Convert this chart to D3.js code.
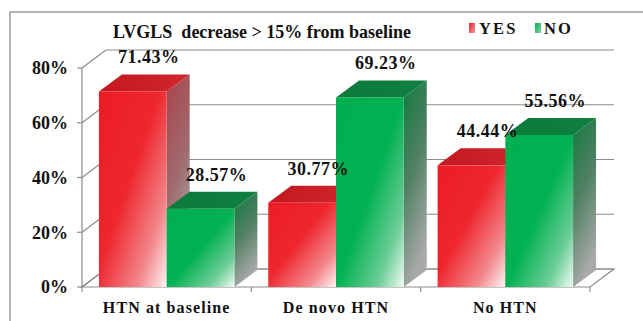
<!DOCTYPE html>
<html>
<head>
<meta charset="utf-8">
<script src="https://cdn.jsdelivr.net/npm/d3@7"></script>
<style>
  html, body { margin: 0; padding: 0; background: #fff; }
  svg { display: block; }
  text { font-family: "Liberation Serif", "Times New Roman", serif; font-weight: bold; fill: #111; }
</style>
</head>
<body>
<svg id="chart" width="643" height="321"></svg>
<script>
// Data
const categories = ["HTN at baseline", "De novo HTN", "No HTN"];
const seriesNames = ["YES", "NO"];
const yesValues = [71.43, 30.77, 44.44];
const noValues = [28.57, 69.23, 55.56];
const yTicks = [0, 20, 40, 60, 80];
const chartTitle = "LVGLS  decrease > 15% from baseline";

const svg = d3.select("#chart");

// Layout of the 3D plot area (front plane + depth offset)
const plot = { left: 82, right: 590, bottom: 287, top: 68 };
const wallDx = 24, wallDy = -18;   // depth of walls / floor
const barDx = 23, barDy = -17;     // depth of each bar

const y = d3.scaleLinear().domain([0, 80]).range([plot.bottom, plot.top]);
const x0 = d3.scaleBand().domain(categories).range([plot.left, plot.right]).paddingInner(0).paddingOuter(0);
const x1 = d3.scaleBand().domain(seriesNames)
  .range([x0.bandwidth() * 0.1, x0.bandwidth() * 0.9]).padding(0);

const rows = categories.map((c, i) => ({ category: c, values: [yesValues[i], noValues[i]] }));

// Gradients
const defs = svg.append("defs");
function linGrad(id, x1g, y1g, x2g, y2g, stops) {
  const g = defs.append("linearGradient").attr("id", id)
    .attr("x1", x1g).attr("y1", y1g).attr("x2", x2g).attr("y2", y2g);
  stops.forEach(s => g.append("stop").attr("offset", s[0]).attr("stop-color", s[1]));
}
linGrad("redFront", 0, 0, 1, 1, [[0, "#ec1c24"], [0.45, "#ee262e"], [0.78, "#f2878b"], [1, "#fff4f5"]]);
linGrad("greenFront", 0, 0, 1, 1, [[0, "#00af4f"], [0.5, "#02b151"], [0.8, "#6ccd97"], [1, "#f2fbf5"]]);
linGrad("redSide", 0, 0, 0.3, 1, [[0, "#a8434a"], [0.55, "#a06a6e"], [1, "#a8a8a8"]]);
linGrad("greenSide", 0, 0, 0.3, 1, [[0, "#127a40"], [0.5, "#4f8062"], [1, "#a9a9a9"]]);
linGrad("redTop", 0, 0, 1, 0, [[0, "#c41820"], [1, "#d0262e"]]);
linGrad("greenTop", 0, 0, 1, 0, [[0, "#0b7a3a"], [1, "#0f8040"]]);
linGrad("redKey", 0, 0, 1, 1, [[0, "#ec1c24"], [1, "#f59a9d"]]);
linGrad("greenKey", 0, 0, 1, 1, [[0, "#00af4f"], [1, "#7fd6a4"]]);

const fills = {
  YES: { front: "url(#redFront)", side: "url(#redSide)", top: "url(#redTop)", key: "url(#redKey)" },
  NO: { front: "url(#greenFront)", side: "url(#greenSide)", top: "url(#greenTop)", key: "url(#greenKey)" }
};

// Outer frame
svg.append("rect").attr("x", 10).attr("y", 12).attr("width", 700).attr("height", 400)
  .attr("fill", "#fff").attr("stroke", "#9a9a9a").attr("stroke-width", 1.5);

// Title
svg.append("text").attr("x", 113).attr("y", 38)
  .style("font-size", "18px").style("white-space", "pre")
  .text(chartTitle);

// Legend
const legendItems = [{ name: "YES", mx: 469, tx: 479 }, { name: "NO", mx: 535, tx: 544 }];
legendItems.forEach(it => {
  svg.append("rect").attr("x", it.mx).attr("y", 23).attr("width", 6).attr("height", 10)
    .attr("fill", fills[it.name].key);
  svg.append("text").attr("x", it.tx).attr("y", 34)
    .style("font-size", "16.5px").style("letter-spacing", "2.2px").text(it.name);
});

const grid = svg.append("g").attr("stroke", "#8c8c8c").attr("stroke-width", 1.2).attr("fill", "none");

// Floor
const floorPts = [[plot.left, plot.bottom], [plot.right, plot.bottom],
  [plot.right + wallDx, plot.bottom + wallDy], [plot.left + wallDx, plot.bottom + wallDy]];
grid.append("path").attr("d", d3.line()(floorPts) + "Z").attr("fill", "#fff");

// Gridlines on left wall and back wall
yTicks.forEach(t => {
  const yy = y(t);
  grid.append("line").attr("x1", plot.left).attr("y1", yy)
    .attr("x2", plot.left + wallDx).attr("y2", yy + wallDy);
  grid.append("line").attr("x1", plot.left + wallDx).attr("y1", yy + wallDy)
    .attr("x2", plot.right + wallDx).attr("y2", yy + wallDy);
  grid.append("line").attr("x1", plot.left - 5).attr("y1", yy)
    .attr("x2", plot.left).attr("y2", yy);
});

// Vertical axis line
grid.append("line").attr("x1", plot.left).attr("y1", y(80)).attr("x2", plot.left).attr("y2", plot.bottom);

// Category tick marks
const boundaries = categories.map(c => x0(c)).concat([plot.right]);
boundaries.forEach(bx => {
  grid.append("line").attr("x1", bx).attr("y1", plot.bottom).attr("x2", bx).attr("y2", plot.bottom + 5);
});

// Y axis labels
svg.append("g").selectAll("text").data(yTicks).join("text")
  .attr("x", 68).attr("y", d => y(d)).attr("dy", "0.35em")
  .attr("text-anchor", "end").style("font-size", "18px")
  .text(d => d + "%");

// Category labels
svg.append("g").selectAll("text").data(categories).join("text")
  .attr("x", d => x0(d) + x0.bandwidth() / 2).attr("y", 313)
  .attr("text-anchor", "middle").style("font-size", "16px").style("letter-spacing", "1.1px")
  .text(d => d);

// 3D bars
const bars = svg.append("g");
rows.forEach(row => {
  seriesNames.forEach((s, j) => {
    const v = row.values[j];
    const bx = x0(row.category) + x1(s);
    const bw = x1.bandwidth();
    const yt = y(v), yb = y(0);
    const g = bars.append("g");
    // side face
    g.append("path").attr("fill", fills[s].side)
      .attr("d", d3.line()([[bx + bw, yt], [bx + bw + barDx, yt + barDy], [bx + bw + barDx, yb + barDy], [bx + bw, yb]]) + "Z");
    // top face
    g.append("path").attr("fill", fills[s].top)
      .attr("d", d3.line()([[bx, yt], [bx + barDx, yt + barDy], [bx + bw + barDx, yt + barDy], [bx + bw, yt]]) + "Z");
    // front face
    g.append("rect").attr("x", bx).attr("y", yt).attr("width", bw).attr("height", yb - yt)
      .attr("fill", fills[s].front);
  });
});

// Value labels
const labels = svg.append("g");
rows.forEach(row => {
  seriesNames.forEach((s, j) => {
    const v = row.values[j];
    const bx = x0(row.category) + x1(s);
    labels.append("text")
      .attr("x", bx + x1.bandwidth() / 2 + 16)
      .attr("y", y(v) + barDy - 11)
      .attr("text-anchor", "middle")
      .style("font-size", "18px").style("letter-spacing", "0.5px")
      .text(v.toFixed(2) + "%");
  });
});
</script>
</body>
</html>
